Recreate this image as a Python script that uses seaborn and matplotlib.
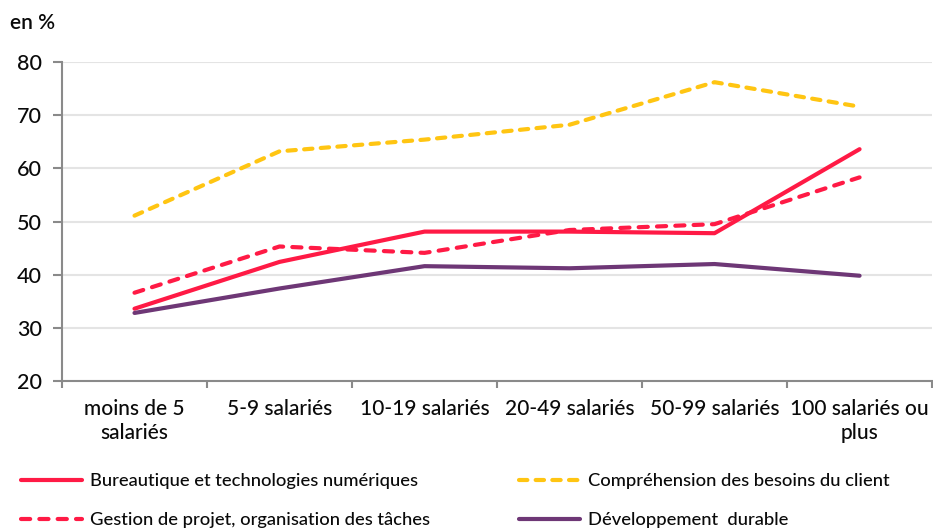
import matplotlib
matplotlib.use("Agg")
import matplotlib.pyplot as plt
import seaborn as sns
import pandas as pd
from matplotlib.lines import Line2D

categories = ["moins de 5\nsalariés", "5-9 salariés", "10-19 salariés", "20-49 salariés",
              "50-99 salariés", "100 salariés ou\nplus"]
bureautique = [33.6, 42.4, 48.1, 48.1, 47.8, 63.6]
comprehension = [51.1, 63.2, 65.4, 68.2, 76.2, 71.6]
gestion = [36.6, 45.3, 44.1, 48.4, 49.5, 58.3]
developpement = [32.8, 37.4, 41.6, 41.2, 42.0, 39.8]

series_names = ["Bureautique et technologies numériques",
                "Compréhension des besoins du client",
                "Gestion de projet, organisation des tâches",
                "Développement  durable"]
series_values = [bureautique, comprehension, gestion, developpement]
yticks = [20, 30, 40, 50, 60, 70, 80]

RED = "#FF1A45"
YEL = "#FFC512"
PUR = "#6E3776"
colors = {series_names[0]: RED, series_names[1]: YEL, series_names[2]: RED, series_names[3]: PUR}
dashes = {series_names[0]: "", series_names[1]: (2.0, 2.0), series_names[2]: (2.2, 2.2),
          series_names[3]: ""}

rows = []
for name, vals in zip(series_names, series_values):
    for i, v in enumerate(vals):
        rows.append({"pos": i, "value": v, "serie": name})
df = pd.DataFrame(rows)

sns.set_theme(style="white")
plt.rcParams["font.family"] = ["Lato", "DejaVu Sans"]
plt.rcParams["font.weight"] = "medium"

fig = plt.figure(figsize=(9.33, 5.30), dpi=100)
ax = fig.add_axes([62 / 933, 1 - 381 / 530, 1 - 62 / 933 - 0.001, (381 - 62) / 530])

sns.lineplot(data=df, x="pos", y="value", hue="serie", style="serie",
             palette=colors, dashes=dashes, linewidth=3.0, legend=False, ax=ax,
             hue_order=series_names, style_order=series_names)
for ln in ax.get_lines():
    ln.set_dash_capstyle("round")
    ln.set_solid_capstyle("round")
    ln.set_solid_joinstyle("round")

TXT = "#0a0a0a"
ax.set_xlim(-0.5, 5.5)
ax.set_ylim(20, 80)
ax.set_yticks(yticks)
ax.set_yticklabels([str(t) for t in yticks], fontsize=15.5, fontweight="medium")
ax.set_xticks(range(len(categories)))
ax.set_xticklabels(categories, fontsize=15, linespacing=1.25, fontweight="medium")
ax.set_xticks([x - 0.5 for x in range(len(categories) + 1)], minor=True)
ax.tick_params(axis="x", which="major", length=0, pad=13, colors=TXT)
ax.tick_params(axis="x", which="minor", length=5, width=1.5, color="#8a8a8a", bottom=True)
ax.tick_params(axis="y", length=6.5, width=1.5, color="#8a8a8a", pad=8, left=True,
               labelcolor=TXT)
ax.set_xlabel("")
ax.set_ylabel("")
ax.grid(axis="y", color="#e4e4e4", linewidth=1.5)
ax.set_axisbelow(True)
for s in ["top", "right"]:
    ax.spines[s].set_visible(False)
for s in ["left", "bottom"]:
    ax.spines[s].set_color("#8a8a8a")
    ax.spines[s].set_linewidth(1.5)

fig.text(10 / 933, 1 - 23 / 530, "en %", fontsize=15, fontweight="semibold",
         va="center", ha="left", color=TXT)

def handle(c, d):
    h = Line2D([0], [0], color=c, linewidth=3.0, dash_capstyle="round",
               solid_capstyle="round")
    if d:
        h.set_dashes(d)
    return h

leg_kw = dict(frameon=False, handlelength=3.3, handletextpad=0.45,
              labelspacing=1.25, borderaxespad=0, borderpad=0, loc="upper left",
              prop={"size": 13.2, "weight": "medium"})
leg1 = fig.legend([handle(RED, None), handle(RED, (2.2, 2.2))],
                  [series_names[0], series_names[2]],
                  bbox_to_anchor=(21 / 933, 1 - 473 / 530), **leg_kw)
leg2 = fig.legend([handle(YEL, (2.0, 2.0)), handle(PUR, None)],
                  [series_names[1], series_names[3]],
                  bbox_to_anchor=(519 / 933, 1 - 473 / 530), **leg_kw)
for leg in (leg1, leg2):
    for t in leg.get_texts():
        t.set_color(TXT)

fig.savefig("out.png", dpi=100)
